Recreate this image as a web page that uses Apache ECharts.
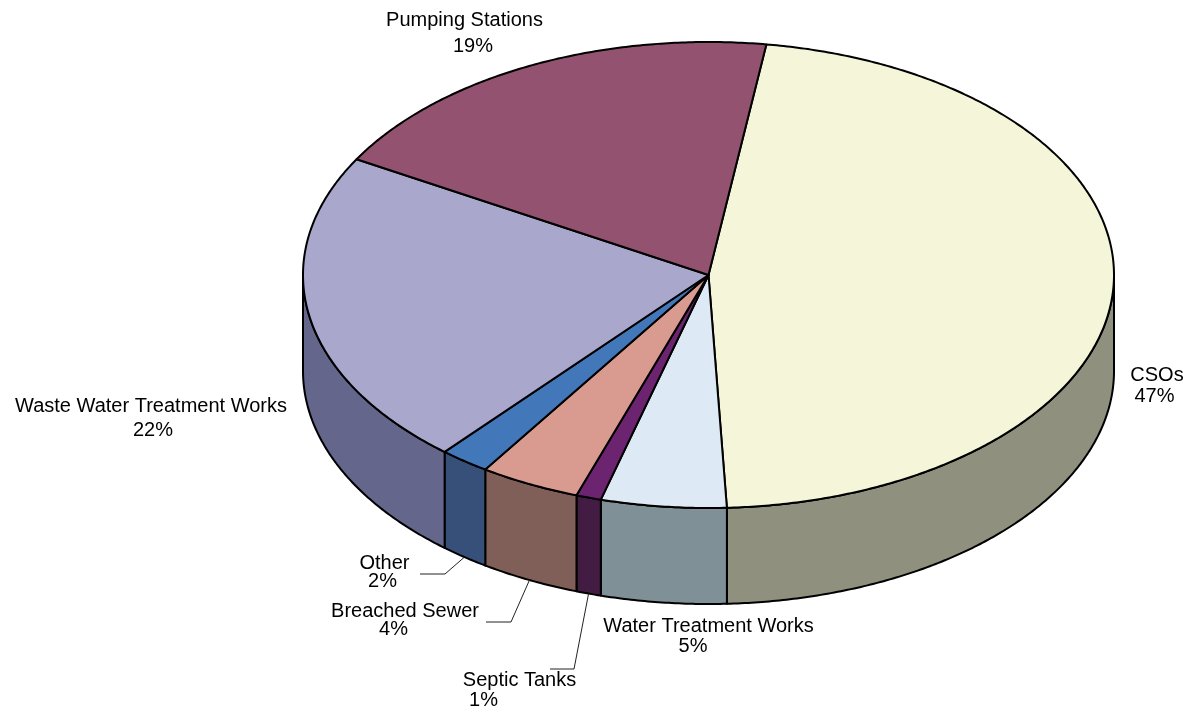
<!DOCTYPE html>
<html>
<head>
<meta charset="utf-8">
<script src="https://cdn.jsdelivr.net/npm/echarts@6/dist/echarts.min.js"></script>
<style>
  html, body { margin: 0; padding: 0; background: #ffffff; }
  #chart { width: 1191px; height: 713px; }
</style>
</head>
<body>
<div id="chart"></div>
<script>
// Pollution incident sources, share of total (%)
const categories = ['CSOs', 'Water Treatment Works', 'Septic Tanks', 'Breached Sewer', 'Other', 'Waste Water Treatment Works', 'Pumping Stations'];
const shares = [47, 5, 1, 4, 2, 22, 19];

// Face colours: top surface and the darker outer wall of each slice
const topColors  = ['#F5F5D9', '#DDE9F5', '#6C2470', '#D99A90', '#4277BA', '#A9A7CC', '#93526F'];
const sideColors = ['#8F907D', '#7F9096', '#431C43', '#7F5F57', '#36507A', '#64668C', '#5C3346'];

// Pie geometry in axis units: top ellipse spans -1..1 on both axes,
// the wall drops DEPTH units below it.
const START_DEG = 8.2;          // first slice starts just right of 12 o'clock, runs clockwise
const DEPTH = 96 / 233;

// Label placement in pixels (centre x, middle y of each text line) and leader elbows
const labelLayout = [
  { l1: [1157, 375], l2: [1154.5, 396] },
  { l1: [708.5, 626], l2: [693, 646] },
  { l1: [519.5, 680], l2: [483.5, 700], elbow: [574, 669], tail: [550, 669] },
  { l1: [405, 611], l2: [393.5, 629], elbow: [511, 622], tail: [486, 622] },
  { l1: [384.5, 563], l2: [382.5, 581], elbow: [445, 574], tail: [420, 574] },
  { l1: [151, 406], l2: [153, 430] },
  { l1: [464.5, 20], l2: [473, 46] }
];

const total = shares.reduce((a, b) => a + b, 0);
let running = 0;
const sliceData = shares.map((v, i) => {
  const from = running;
  running += v;
  return [from, running, i];
});

const FONT = '20px "Liberation Sans", Arial, sans-serif';
const EDGE = { stroke: '#000000', lineWidth: 2, lineJoin: 'round' };

function renderSlice(params, api) {
  const i = api.value(2);
  const a1 = START_DEG + api.value(0) / total * 360;
  const a2 = START_DEG + api.value(1) / total * 360;

  const pt = (deg, drop) => {
    const r = deg * Math.PI / 180;
    return api.coord([Math.sin(r), Math.cos(r) - (drop || 0)]);
  };
  const arc = (from, to, drop) => {
    const n = Math.max(2, Math.ceil(Math.abs(to - from) / 0.5));
    const pts = [];
    for (let k = 0; k <= n; k++) pts.push(pt(from + (to - from) * k / n, drop));
    return pts;
  };

  const children = [];

  // outer wall, only where the rim faces the viewer (90..270 deg)
  const w1 = Math.max(a1, 90), w2 = Math.min(a2, 270);
  if (w2 > w1) {
    const pts = arc(w1, w2, 0).concat(arc(w1, w2, DEPTH).reverse());
    children.push({
      type: 'polygon', z2: 1,
      shape: { points: pts },
      style: Object.assign({ fill: sideColors[i] }, EDGE)
    });
  }

  // top face
  children.push({
    type: 'polygon', z2: 2,
    shape: { points: [api.coord([0, 0])].concat(arc(a1, a2, 0)) },
    style: Object.assign({ fill: topColors[i] }, EDGE)
  });

  // label text
  const lay = labelLayout[i];
  children.push({
    type: 'text', z2: 5,
    style: { text: categories[i], x: lay.l1[0], y: lay.l1[1], fill: '#000000', font: FONT, align: 'center', verticalAlign: 'middle' }
  });
  children.push({
    type: 'text', z2: 5,
    style: { text: shares[i] + '%', x: lay.l2[0], y: lay.l2[1], fill: '#000000', font: FONT, align: 'center', verticalAlign: 'middle' }
  });

  // leader line to the bottom rim at the slice's middle angle
  if (lay.elbow) {
    const end = pt((a1 + a2) / 2, DEPTH);
    children.push({
      type: 'polyline', z2: 4,
      shape: { points: [lay.tail, lay.elbow, end] },
      style: { stroke: '#222222', lineWidth: 1, fill: null }
    });
  }

  return { type: 'group', children: children };
}

const chart = echarts.init(document.getElementById('chart'), null, { renderer: 'canvas' });
chart.setOption({
  backgroundColor: '#ffffff',
  animation: false,
  grid: { left: 303, top: 42, width: 811, height: 233 * (2 + DEPTH), containLabel: false },
  xAxis: { type: 'value', min: -1, max: 1, show: false },
  yAxis: { type: 'value', min: -1 - DEPTH, max: 1, show: false },
  series: [{
    type: 'custom',
    coordinateSystem: 'cartesian2d',
    clip: false,
    silent: true,
    renderItem: renderSlice,
    encode: { x: 0, y: 1 },
    data: sliceData
  }]
});
</script>
</body>
</html>
